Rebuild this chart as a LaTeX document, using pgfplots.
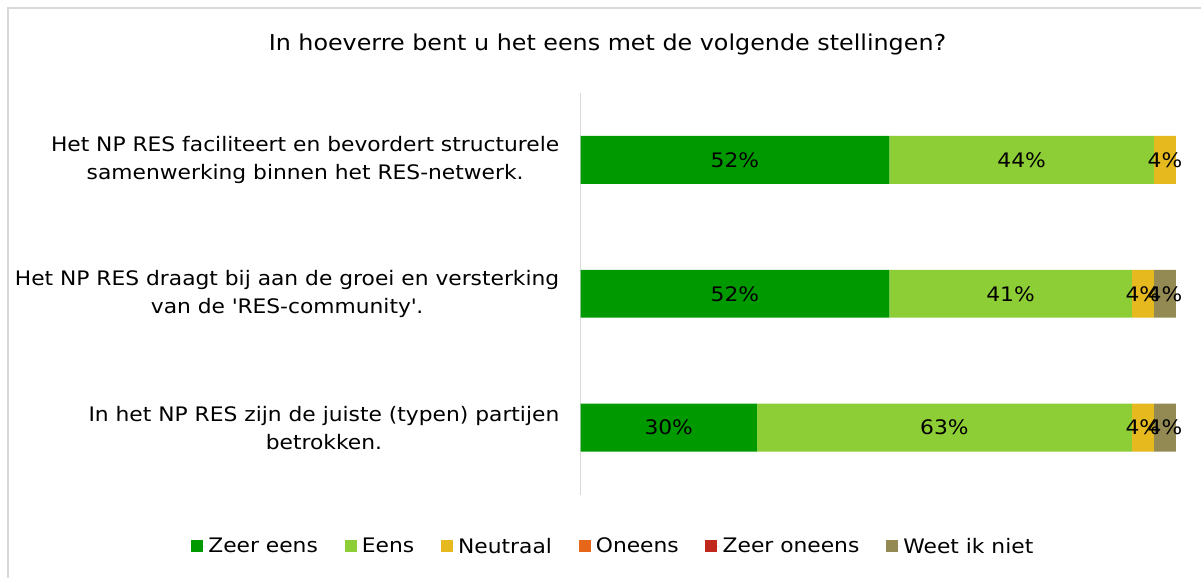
\documentclass[border=0pt]{standalone}
\usepackage{pgfplots}
\pgfplotsset{compat=1.18}
\usepackage{fontspec}
\setmainfont{DejaVu Sans}[FakeStretch=1.09]

\definecolor{zeereens}{RGB}{0,153,0}
\definecolor{eens}{RGB}{141,205,53}
\definecolor{neutraal}{RGB}{230,185,30}
\definecolor{oneens}{RGB}{232,102,26}
\definecolor{zeeroneens}{RGB}{192,40,30}
\definecolor{weetniet}{RGB}{147,137,83}
\definecolor{framegray}{RGB}{217,217,217}

\begin{document}
\begin{tikzpicture}
% page 1202 x 578 px, 1px = 0.75pt
\fill[white] (0,0) rectangle (901.5pt,433.5pt);
\draw[framegray, line width=1.5pt] (6pt,0pt) |- (901.5pt,427.5pt);
\node[font=\fontsize{16.4}{19}\selectfont] at (456pt,399.75pt)
  {In hoeverre bent u het eens met de volgende stellingen?};

\begin{axis}[%
width=447pt,
height=301.5pt,
at={(435.75pt,62.25pt)},
anchor=south west,
scale only axis,
xbar stacked,
bar width=36pt,
xmin=0, xmax=100,
ymin=-0.5, ymax=2.5,
y dir=reverse,
ytick={0,1,2},
yticklabels={{Het NP RES faciliteert en bevordert structurele\\samenwerking binnen het RES-netwerk.},
             {Het NP RES draagt bij aan de groei en versterking\\van de \textquotesingle RES-community\textquotesingle.},
             {In het NP RES zijn de juiste (typen) partijen\\betrokken.}},
yticklabel style={align=center, font=\fontsize{15}{21}\selectfont, inner sep=0pt, xshift=-15.75pt},
major tick length=0pt,
hide x axis,
axis y line*=left,
y axis line style={framegray, line width=1pt},
axis line style={-},
every axis plot/.append style={draw=none},
/pgf/number format/assume math mode=true,
nodes near coords={\pgfmathfloatifflags{\pgfplotspointmeta}{0}{}{\pgfmathprintnumber[fixed,precision=0]{\pgfplotspointmeta}\%}},
every node near coord/.append style={font=\fontsize{15}{18}\selectfont, black, inner sep=0pt},
legend columns=6,
legend style={at={(0.0554,-0.129)}, anchor=center, draw=none, fill=none,
  font=\fontsize{15}{18}\selectfont,
  /tikz/every even column/.append style={column sep=18pt}},
legend cell align=left,
legend image code/.code={\fill[#1] (0pt,-4.5pt) rectangle (9pt,4.5pt); \path (0pt,0pt) -- (11pt,0pt);},
]
\addplot[fill=zeereens] coordinates {(51.85,0) (51.85,1) (29.63,2)};
\addlegendentry{Zeer eens}
\addplot[fill=eens] coordinates {(44.44,0) (40.74,1) (62.96,2)};
\addlegendentry{Eens}
\addplot[fill=neutraal] coordinates {(3.70,0) (3.70,1) (3.70,2)};
\addlegendentry{Neutraal}
\addplot[fill=oneens] coordinates {(0,0) (0,1) (0,2)};
\addlegendentry{Oneens}
\addplot[fill=zeeroneens] coordinates {(0,0) (0,1) (0,2)};
\addlegendentry{Zeer oneens}
\addplot[fill=weetniet] coordinates {(0,0) (3.70,1) (3.70,2)};
\addlegendentry{Weet ik niet}
\end{axis}
\end{tikzpicture}
\end{document}
